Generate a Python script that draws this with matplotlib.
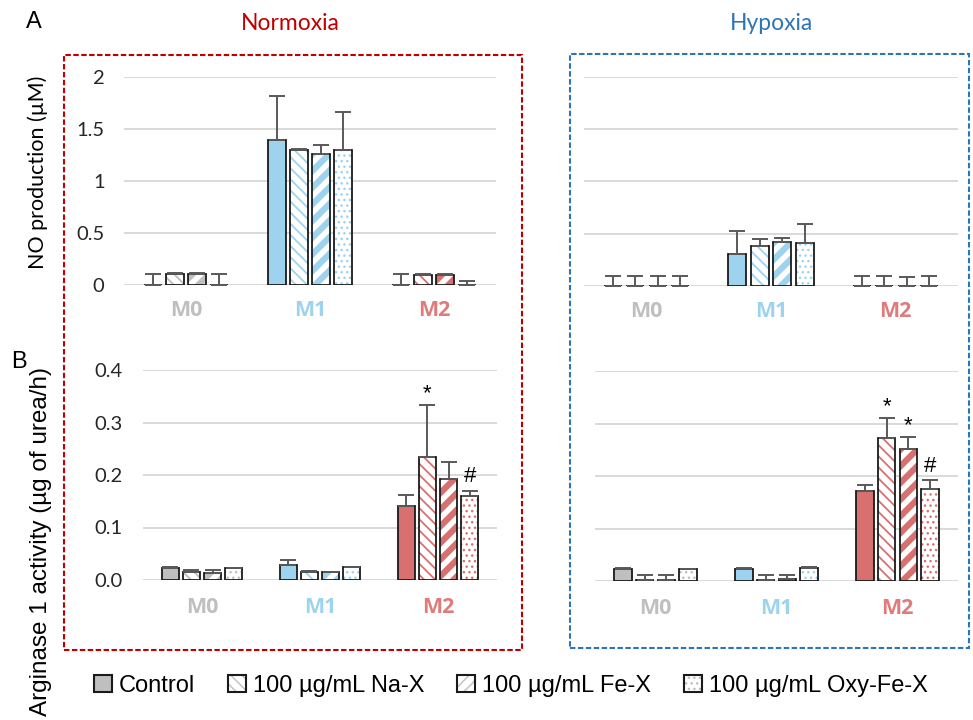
import matplotlib
matplotlib.use("Agg")
import matplotlib.pyplot as plt
import numpy as np
from matplotlib.patches import Patch, Rectangle
from matplotlib.legend_handler import HandlerTuple

# ---------------- data ----------------
categories = ["M0", "M1", "M2"]
series = ["Control", "100 µg/mL Na-X", "100 µg/mL Fe-X", "100 µg/mL Oxy-Fe-X"]

# NO production (µM) - normoxia
no_norm_mean = [[0.00, 1.39, 0.00],
                [0.11, 1.30, 0.10],
                [0.11, 1.26, 0.10],
                [0.00, 1.30, 0.00]]
no_norm_err = [[0.11, 0.43, 0.11],
               [0.005, 0.01, 0.005],
               [0.005, 0.09, 0.01],
               [0.11, 0.36, 0.04]]
# NO production (µM) - hypoxia
no_hyp_mean = [[0.00, 0.31, 0.00],
               [0.00, 0.38, 0.00],
               [0.00, 0.42, 0.00],
               [0.00, 0.41, 0.00]]
no_hyp_err = [[0.10, 0.22, 0.10],
              [0.10, 0.07, 0.10],
              [0.10, 0.04, 0.09],
              [0.10, 0.18, 0.10]]
# Arginase 1 activity - normoxia
arg_norm_mean = [[0.023, 0.029, 0.141],
                 [0.015, 0.016, 0.235],
                 [0.014, 0.015, 0.192],
                 [0.022, 0.024, 0.160]]
arg_norm_err = [[0.001, 0.010, 0.021],
                [0.004, 0.001, 0.099],
                [0.005, 0.001, 0.033],
                [0.001, 0.001, 0.010]]
# Arginase 1 activity - hypoxia
arg_hyp_mean = [[0.023, 0.023, 0.172],
                [0.002, 0.002, 0.272],
                [0.002, 0.003, 0.252],
                [0.022, 0.025, 0.175]]
arg_hyp_err = [[0.001, 0.001, 0.010],
               [0.009, 0.009, 0.039],
               [0.009, 0.009, 0.022],
               [0.001, 0.001, 0.017]]

no_ticks = [0, 0.5, 1, 1.5, 2]
no_ticklabels = ["0", "0.5", "1", "1.5", "2"]
arg_ticks = [0.0, 0.1, 0.2, 0.3, 0.4]
arg_ticklabels = ["0.0", "0.1", "0.2", "0.3", "0.4"]

# (category index, series index, symbol)
arg_norm_marks = [(2, 1, "*"), (2, 3, "#")]
arg_hyp_marks = [(2, 1, "*"), (2, 2, "*"), (2, 3, "#")]

# ---------------- style ----------------
cat_colors = ["#bfbfbf", "#9dd3ee", "#d97070"]
cat_label_colors = ["#bfbfbf", "#9dd3ee", "#e07b7b"]
hatches = [None, "\\\\\\", "//", "..."]
hatch_lws = [0, 1.3, 4.5, 1.0]
edge_dark = "#1a1a1a"
err_color = "#595959"
grid_color = "#d9d9d9"

fig = plt.figure(figsize=(9.73, 7.2), dpi=100)
W, H = 973.0, 720.0


def rect(x0, y0, x1, y1):
    return [x0 / W, 1 - y1 / H, (x1 - x0) / W, (y1 - y0) / H]


step = 0.18
width = 0.145


def set_hlw(artists, lw):
    for b in artists:
        if hasattr(b, "set_hatch_linewidth"):
            b.set_hatch_linewidth(lw)


def draw_panel(ax, means, errs, ticks, ticklabels, show_yt, ylim, marks, ypad, xpad):
    x = np.arange(len(categories))
    for s in range(len(series)):
        xs = x + (s - 1.5) * step
        m = np.array(means[s])
        e = np.array(errs[s])
        if s == 0:
            ax.bar(xs, m, width, color=cat_colors, edgecolor="none", linewidth=0, zorder=2)
        else:
            with plt.rc_context({"hatch.linewidth": hatch_lws[s]}):
                bars = ax.bar(xs, m, width, color="white", edgecolor=cat_colors,
                              hatch=hatches[s], linewidth=0, zorder=2)
                set_hlw(bars, hatch_lws[s])
        ax.bar(xs, m, width, fill=False, edgecolor=edge_dark, linewidth=1.3, zorder=3)
        ax.errorbar(xs, m, yerr=[np.zeros_like(e), e], fmt="none", ecolor=err_color,
                    elinewidth=1.4, capsize=5.5, capthick=1.4, zorder=4)
    for (c, s, sym) in marks:
        xx = c + (s - 1.5) * step
        top = means[s][c] + errs[s][c]
        ax.annotate(sym, xy=(xx, top), xytext=(0, 4 if sym == "*" else 6),
                    textcoords="offset points", ha="center", va="baseline",
                    fontsize=16, family="Liberation Sans", color="black", zorder=5)
    ax.set_xlim(-0.5, len(categories) - 0.5)
    ax.set_ylim(*ylim)
    ax.set_yticks(ticks)
    ax.set_yticklabels(ticklabels if show_yt else [""] * len(ticks))
    ax.set_xticks(x)
    ax.set_xticklabels(categories)
    for lab, col in zip(ax.get_xticklabels(), cat_label_colors):
        lab.set_color(col)
        lab.set_fontweight("bold")
        lab.set_fontsize(15.5)
        lab.set_family("Open Sans")
    for lab in ax.get_yticklabels():
        lab.set_fontsize(14.5)
        lab.set_family("Lato")
        lab.set_color("#262626")
    ax.tick_params(axis="both", length=0)
    ax.tick_params(axis="y", pad=ypad)
    ax.tick_params(axis="x", pad=xpad)
    for sp in ax.spines.values():
        sp.set_visible(False)
    ax.set_axisbelow(True)
    ax.yaxis.grid(True, color=grid_color, linewidth=1.4)
    ax.patch.set_alpha(0)


ax_tl = fig.add_axes(rect(124, 77, 496, 285))
ax_tr = fig.add_axes(rect(584, 77, 958, 286))
ax_bl = fig.add_axes(rect(143, 370, 497, 580))
ax_br = fig.add_axes(rect(595, 371, 958, 581))

draw_panel(ax_tl, no_norm_mean, no_norm_err, no_ticks, no_ticklabels, True, (0, 2), [], 14, 11)
draw_panel(ax_tr, no_hyp_mean, no_hyp_err, no_ticks, no_ticklabels, False, (0, 2), [], 14, 11)
draw_panel(ax_bl, arg_norm_mean, arg_norm_err, arg_ticks, arg_ticklabels, True, (0, 0.4), arg_norm_marks, 15, 12)
draw_panel(ax_br, arg_hyp_mean, arg_hyp_err, arg_ticks, arg_ticklabels, False, (0, 0.4), arg_hyp_marks, 15, 12)

# dashed boxes
dash = (0, (2.6, 1.2))
fig.patches.append(Rectangle((64 / W, 1 - 650 / H), (522 - 64) / W, (650 - 55) / H,
                             transform=fig.transFigure, fill=False, edgecolor="#c00000",
                             linewidth=1.5, linestyle=dash))
fig.patches.append(Rectangle((570 / W, 1 - 648 / H), (969 - 570) / W, (648 - 54) / H,
                             transform=fig.transFigure, fill=False, edgecolor="#2e75b6",
                             linewidth=1.5, linestyle=dash))

# titles & panel letters
fig.text(290 / W, 1 - 24 / H, "Normoxia", color="#c00000", fontsize=16.5, family="Lato",
         ha="center", va="center")
fig.text(771 / W, 1 - 24 / H, "Hypoxia", color="#2e75b6", fontsize=16.5, family="Lato",
         ha="center", va="center")
fig.text(34 / W, 1 - 22 / H, "A", fontsize=17, family="Liberation Sans", ha="center", va="center")
fig.text(19 / W, 1 - 362 / H, "B", fontsize=17, family="Liberation Sans", ha="center", va="center")

# y labels
fig.text(38 / W, 1 - 172 / H, "NO production (µM)", rotation=90, fontsize=15.5, family="Lato",
         ha="center", va="center")
fig.text(41 / W, 1 - 541 / H, "Arginase 1 activity (µg of urea/h)", rotation=90, fontsize=17.5,
         family="Liberation Sans", ha="center", va="center")

# legend
leg_gray = "#bfbfbf"
leg_hatches = [None, "\\\\\\", "///", "..."]
leg_hlws = [0, 1.0, 2.5, 1.0]
handles = []
for s in range(len(series)):
    if s == 0:
        base = Patch(facecolor=leg_gray, edgecolor="none", linewidth=0)
    else:
        with plt.rc_context({"hatch.linewidth": leg_hlws[s]}):
            base = Patch(facecolor="white", edgecolor=leg_gray, hatch=leg_hatches[s], linewidth=0)
        set_hlw([base], leg_hlws[s])
    outline = Patch(fill=False, edgecolor=edge_dark, linewidth=1.5)
    handles.append((base, outline))
fig.legend(handles, series, loc="center", bbox_to_anchor=(511 / W, 1 - 686 / H), ncol=4,
           frameon=False, prop={"family": "Liberation Sans", "size": 17},
           handlelength=0.75, handleheight=0.75, handletextpad=0.3, columnspacing=1.4,
           borderpad=0, handler_map={tuple: HandlerTuple(ndivide=1, pad=0)})

fig.savefig("out.png", dpi=100)
